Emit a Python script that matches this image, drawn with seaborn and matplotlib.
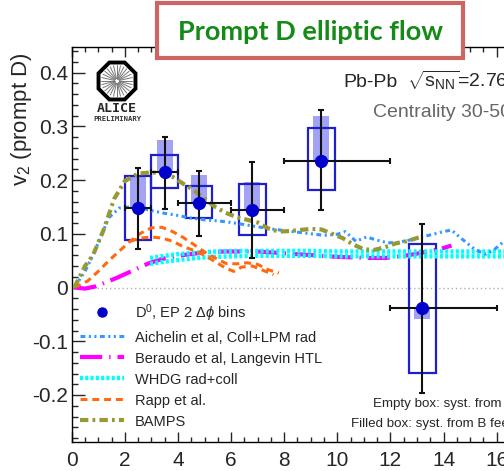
import numpy as np
import pandas as pd
import matplotlib
matplotlib.use("Agg")
import matplotlib.pyplot as plt
import seaborn as sns
from matplotlib.patches import Rectangle, RegularPolygon
from matplotlib.lines import Line2D
from matplotlib.ticker import MultipleLocator

# ---------------- data ----------------
pt = [2.5, 3.5, 4.8, 6.8, 9.4, 13.2]
v2 = [0.147, 0.214, 0.157, 0.145, 0.236, -0.039]
pt_lo = [2.0, 3.0, 4.0, 6.0, 8.0, 12.0]
pt_hi = [3.0, 4.0, 6.0, 8.0, 12.0, 16.0]
stat_lo = [0.072, 0.146, 0.096, 0.055, 0.144, -0.196]
stat_hi = [0.222, 0.280, 0.217, 0.233, 0.330, 0.1185]
syst_lo = [0.088, 0.185, 0.129, 0.097, 0.181, -0.159]
syst_hi = [0.207, 0.246, 0.188, 0.193, 0.296, 0.0815]
fd_lo = [0.147, 0.214, 0.157, 0.145, 0.236, -0.058]
fd_hi = [0.206, 0.274, 0.209, 0.197, 0.320, -0.039]

bamps_pt = [0.1, 0.5, 0.8, 1.2, 1.6, 2.0, 2.5, 3.0, 3.4, 3.8, 4.2, 4.6, 5.0, 5.4, 5.8,
            6.2, 6.6, 7.0, 7.4, 7.8, 8.2, 8.6, 9.0, 9.4, 9.8, 10.2, 10.6, 11.0, 11.4,
            11.8, 12.2, 12.6, 13.0, 13.2]
bamps_v2 = [0.0, 0.04, 0.06, 0.107, 0.165, 0.198, 0.212, 0.214, 0.213, 0.206, 0.193,
            0.181, 0.165, 0.15, 0.139, 0.131, 0.126, 0.121, 0.11, 0.104, 0.105, 0.107,
            0.109, 0.108, 0.100, 0.092, 0.080, 0.071, 0.07, 0.075, 0.082, 0.086, 0.092, 0.095]

aich_pt = [0.1, 0.5, 0.8, 1.1, 1.4, 1.8, 2.2, 2.6, 3.0, 3.5, 4.0, 4.5, 5.0, 5.5, 6.0, 6.5,
           7.0, 7.5, 8.0, 8.5, 9.0, 9.5, 10.0, 10.3, 10.7, 11.1, 11.5, 11.9, 12.3, 12.7,
           13.1, 13.6, 14.0, 14.3, 14.6, 14.9, 15.2, 15.6, 15.9, 16.3, 16.6]
aich_v2 = [0.0, 0.03, 0.06, 0.095, 0.13, 0.148, 0.150, 0.148, 0.143, 0.138, 0.134, 0.129,
           0.126, 0.124, 0.121, 0.117, 0.113, 0.109, 0.106, 0.103, 0.10, 0.097, 0.099,
           0.104, 0.086, 0.094, 0.088, 0.083, 0.084, 0.088, 0.093, 0.099, 0.104, 0.107,
           0.094, 0.082, 0.07, 0.062, 0.07, 0.087, 0.095]

ber_pt = [0.1, 0.5, 0.9, 1.3, 1.7, 2.1, 2.5, 2.9, 3.4, 4.0, 4.6, 5.2, 5.8, 6.4, 7.0, 7.6,
          8.2, 8.8, 9.4, 10.0, 10.6, 11.2, 11.8, 12.4, 12.9, 13.4, 13.9, 14.3]
ber_v2 = [0.0, -0.002, 0.002, 0.01, 0.018, 0.027, 0.036, 0.045, 0.053, 0.059, 0.063, 0.066,
          0.067, 0.067, 0.067, 0.065, 0.063, 0.061, 0.059, 0.057, 0.056, 0.055, 0.055,
          0.058, 0.062, 0.067, 0.072, 0.078]

whdg_pt = [2.95, 3.5, 4.0, 4.5, 5.0, 5.5, 6.0, 7.0, 8.0, 9.0, 10.0, 11.0, 12.0, 13.0,
           14.0, 15.0, 16.0, 16.6]
whdg_hi = [0.055, 0.059, 0.062, 0.064, 0.066, 0.067, 0.068, 0.068, 0.068, 0.068, 0.067,
           0.067, 0.067, 0.067, 0.067, 0.067, 0.067, 0.067]
whdg_lo = [0.044, 0.048, 0.051, 0.054, 0.056, 0.057, 0.058, 0.059, 0.059, 0.059, 0.058,
           0.058, 0.058, 0.058, 0.058, 0.058, 0.058, 0.058]

rapp_hi_pt = [0.1, 0.6, 1.0, 1.4, 1.8, 2.2, 2.6, 3.0, 3.4, 3.8, 4.2, 4.6, 5.0, 5.4, 5.8,
              6.2, 6.6, 7.0, 7.4, 7.8]
rapp_hi_v2 = [0.0, 0.012, 0.03, 0.05, 0.068, 0.086, 0.101, 0.111, 0.112, 0.104, 0.093,
              0.08, 0.066, 0.055, 0.045, 0.044, 0.046, 0.043, 0.033, 0.027]
rapp_lo_pt = [2.2, 2.6, 3.0, 3.4, 3.8, 4.2, 4.6, 5.0, 5.4, 5.8, 6.1, 6.4, 6.8, 7.2, 7.6]
rapp_lo_v2 = [0.086, 0.092, 0.094, 0.092, 0.086, 0.076, 0.069, 0.06, 0.048, 0.036, 0.03,
              0.038, 0.04, 0.032, 0.024]

labels = ["D$^{0}$, EP 2 $\\Delta\\phi$ bins", "Aichelin et al, Coll+LPM rad",
          "Beraudo et al, Langevin HTL", "WHDG rad+coll", "Rapp et al.", "BAMPS"]
xtick_vals = [0, 2, 4, 6, 8, 10, 12, 14, 16]
ytick_vals = [-0.2, -0.1, 0, 0.1, 0.2, 0.3, 0.4]
ytick_labels = ['-0.2', '-0.1', '0', '0.1', '0.2', '0.3', '0.4']

# ---------------- style ----------------
sns.set_style("ticks")
plt.rcParams['font.family'] = ['Liberation Sans', 'DejaVu Sans']
plt.rcParams['mathtext.fontset'] = 'custom'
plt.rcParams['mathtext.rm'] = 'Liberation Sans'
plt.rcParams['mathtext.it'] = 'Liberation Sans:italic'
plt.rcParams['lines.scale_dashes'] = False

W, H = 504, 471
fig = plt.figure(figsize=(W / 100, H / 100), dpi=100)
px_per_x = 26.56
ax = fig.add_axes([71.7 / W, (H - 442.3) / H, 24 * px_per_x / W, (442.3 - 46.7) / H])
ax.set_xlim(0, 24)
ax.set_ylim(-0.288, 0.448)

# zero line
ax.axhline(0, color='#b0b0b0', lw=1.0, ls=(0, (1, 2)), zorder=1)

# systematic boxes
pt_arr = np.array(pt)
ax.bar(pt_arr, np.array(fd_hi) - np.array(fd_lo), bottom=fd_lo, width=0.6,
       color='#a3a3f6', edgecolor='none', zorder=2)
ax.bar(pt_arr, np.array(syst_hi) - np.array(syst_lo), bottom=syst_lo, width=1.0,
       facecolor='none', edgecolor='#1f1fd0', linewidth=1.6, zorder=3)

# model curves
sns.lineplot(x=ber_pt, y=ber_v2, ax=ax, color='#ff00ff', lw=3.0,
             linestyle=(0, (16, 5, 1, 5)), sort=False, estimator=None, label=labels[2], zorder=4)
sns.lineplot(x=whdg_pt, y=whdg_hi, ax=ax, color='#00ffff', lw=3.2,
             linestyle=(0, (2.2, 1.6)), sort=False, estimator=None, label=labels[3], zorder=4)
sns.lineplot(x=whdg_pt, y=whdg_lo, ax=ax, color='#00ffff', lw=3.2,
             linestyle=(0, (2.2, 1.6)), sort=False, estimator=None, zorder=4)
sns.lineplot(x=rapp_hi_pt, y=rapp_hi_v2, ax=ax, color='#ff6a10', lw=2.2,
             linestyle=(0, (5, 3.5)), sort=False, estimator=None, label=labels[4], zorder=4)
sns.lineplot(x=rapp_lo_pt, y=rapp_lo_v2, ax=ax, color='#ff6a10', lw=2.2,
             linestyle=(0, (5, 3.5)), sort=False, estimator=None, zorder=4)
sns.lineplot(x=aich_pt, y=aich_v2, ax=ax, color='#3399ff', lw=2.2,
             linestyle=(0, (3.5, 2.5, 1.5, 2.5, 1.5, 2.5)), sort=False, estimator=None,
             label=labels[1], zorder=5)
sns.lineplot(x=bamps_pt, y=bamps_v2, ax=ax, color='#999933', lw=3.0,
             linestyle=(0, (6, 3, 2, 3)), sort=False, estimator=None, label=labels[5], zorder=5)

# data points with stat. errors
yerr = [np.array(v2) - np.array(stat_lo), np.array(stat_hi) - np.array(v2)]
xerr = [pt_arr - np.array(pt_lo), np.array(pt_hi) - pt_arr]
ax.errorbar(pt, v2, yerr=yerr, xerr=xerr, fmt='o', color='#0000cc', ms=8.5,
            ecolor='#111111', elinewidth=1.5, capsize=2.2, capthick=1.5, zorder=6)

# axes styling
for s in ax.spines.values():
    s.set_linewidth(1.0)
    s.set_color('black')
ax.xaxis.set_minor_locator(MultipleLocator(0.5))
ax.yaxis.set_minor_locator(MultipleLocator(0.02))
ax.tick_params(axis='x', which='major', direction='in', length=7, width=1, top=True,
               labelsize=15, pad=6.5)
ax.tick_params(axis='x', which='minor', direction='in', length=3.5, width=1, top=True)
ax.tick_params(axis='y', which='major', direction='in', length=9, width=1, right=True,
               labelsize=15, pad=2.5)
ax.tick_params(axis='y', which='minor', direction='in', length=4.5, width=1, right=True)
ax.set_xticks(xtick_vals)
ax.set_xticklabels([str(v) for v in xtick_vals])
ax.set_yticks(ytick_vals)
ax.set_yticklabels(ytick_labels)
ax.set_xlabel('')
ax.set_ylabel('')

# legend
handles, labs = ax.get_legend_handles_labels()
d0_handle = Line2D([], [], marker='o', ls='none', color='#0000cc', ms=6.5)
hmap = dict(zip(labs, handles))
hmap[labels[0]] = d0_handle
ax.legend([hmap[l] for l in labels], labels,
          loc='upper left', bbox_to_anchor=(80 / W, 1 - 302 / H),
          bbox_transform=fig.transFigure, frameon=False, fontsize=10.5,
          handlelength=3.0, handletextpad=0.75, labelspacing=0.48,
          borderpad=0, borderaxespad=0)

# y label
fig.text(22 / W, 1 - 52 / H, 'v$_{2}$ (prompt D)', rotation=90, ha='center', va='top',
         fontsize=16)

# annotations
fig.text(343 / W, 1 - 87.3 / H, 'Pb-Pb', fontsize=14, va='baseline', ha='left')
fig.text(407 / W, 1 - 87.3 / H, r'$\sqrt{\mathrm{s}_{\mathrm{NN}}}$=2.76 TeV', fontsize=14,
         va='baseline', ha='left')
fig.text(373 / W, 1 - 117.3 / H, 'Centrality 30-50%', fontsize=14, va='baseline',
         ha='left', color='#666666')
fig.text(372.7 / W, 1 - 406.7 / H, 'Empty box: syst. from data', fontsize=9.6,
         va='baseline', ha='left')
fig.text(350.7 / W, 1 - 426.7 / H, 'Filled box: syst. from B feed-down', fontsize=9.6,
         va='baseline', ha='left')

# ALICE logo
lax = fig.add_axes([96 / W, 1 - 102 / H, 42 / W, 42 / H])
lax.set_xlim(-1.05, 1.05)
lax.set_ylim(-1.05, 1.05)
lax.axis('off')
lax.add_patch(RegularPolygon((0, 0), 8, radius=1.0, orientation=np.pi / 8,
                             fill=False, lw=2.8, ec='black'))
for a in np.linspace(0, 2 * np.pi, 28, endpoint=False):
    lax.plot([0.12 * np.cos(a), 0.78 * np.cos(a)], [0.12 * np.sin(a), 0.78 * np.sin(a)],
             color='#777777', lw=0.7)
fig.text(117 / W, 1 - 108 / H, 'ALICE', family='DejaVu Sans Mono', weight='bold',
         fontsize=9.5, ha='center', va='center')
fig.text(117 / W, 1 - 119 / H, 'PRELIMINARY', family='DejaVu Sans Mono', weight='bold',
         fontsize=5.2, ha='center', va='center', color='#333333')

# title box
rect = Rectangle((157 / W, 1 - 58 / H), 306 / W, 55 / H, transform=fig.transFigure,
                 fc='white', ec='#cd6662', lw=3.0, zorder=10)
fig.patches.append(rect)
fig.text(310 / W, 1 - 40 / H, 'Prompt D elliptic flow', family='Lato', weight='bold',
         fontsize=19.5, color='#168a17', ha='center', va='baseline', zorder=11)

fig.savefig('out.png', dpi=100)
